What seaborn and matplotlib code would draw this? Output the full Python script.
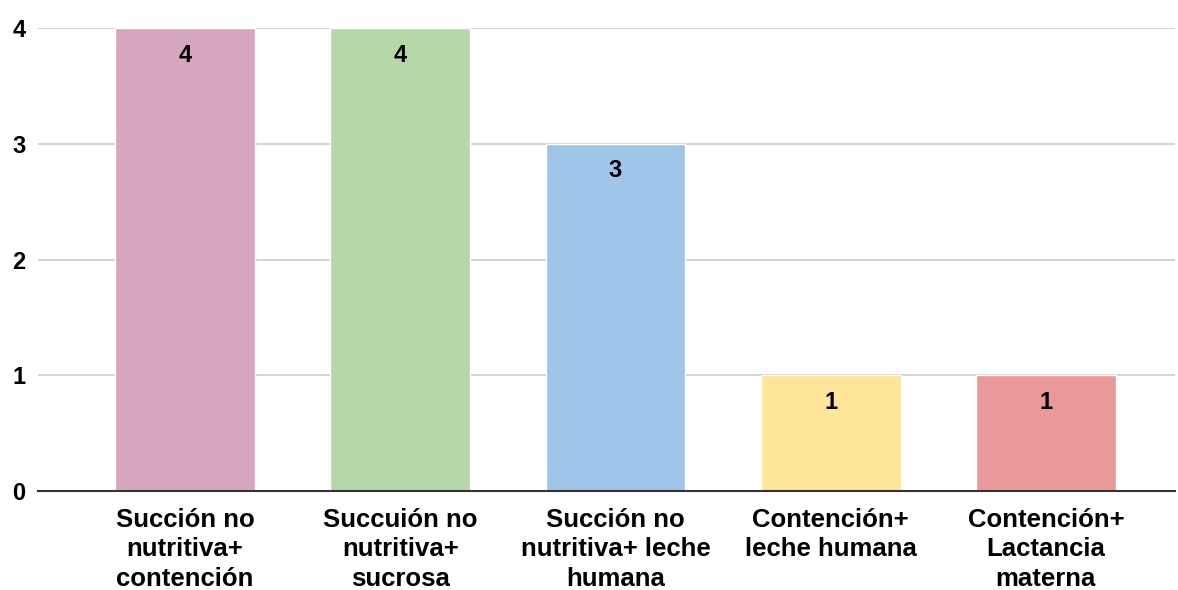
import matplotlib
matplotlib.use("Agg")
import matplotlib.pyplot as plt
import seaborn as sns
import pandas as pd

categories = [
    "Succión no\nnutritiva+\ncontención",
    "Succuión no\nnutritiva+\nsucrosa",
    "Succión no\nnutritiva+ leche\nhumana",
    "Contención+\nleche humana",
    "Contención+\nLactancia\nmaterna",
]
values = [4, 4, 3, 1, 1]
colors = ["#d5a6bd", "#b6d7a8", "#9fc5e8", "#ffe599", "#ea9999"]
y_ticks = [0, 1, 2, 3, 4]

sns.set_theme(style="white")
plt.rcParams["font.family"] = ["Liberation Sans", "DejaVu Sans"]

df = pd.DataFrame({"cat": categories, "val": values})

fig = plt.figure(figsize=(11.78, 5.90), dpi=100)
ax = fig.add_axes([0.0323, 0.1678, 0.9652, 0.7847])

sns.barplot(data=df, x="cat", y="val", hue="cat", palette=colors,
            width=0.65, legend=False, ax=ax, saturation=1)

ax.set_xlim(-0.683, 4.6)
ax.set_ylim(0, 4)
ax.set_yticks(y_ticks)
ax.set_yticklabels([str(t) for t in y_ticks], fontsize=17, fontweight="bold",
                   color="black")
ax.tick_params(axis="y", length=0, pad=9)
ax.tick_params(axis="x", length=0, pad=12)
for lbl in ax.get_xticklabels():
    lbl.set_fontsize(18.5)
    lbl.set_fontweight("bold")
    lbl.set_color("black")
    lbl.set_linespacing(1.3)
    lbl.set_verticalalignment("top")

ax.set_xlabel("")
ax.set_ylabel("")
ax.yaxis.grid(True, color="#cccccc", linewidth=1.2)
ax.set_axisbelow(True)
for s in ["top", "right", "left"]:
    ax.spines[s].set_visible(False)
ax.spines["bottom"].set_color("#333333")
ax.spines["bottom"].set_linewidth(1.5)
ax.spines["bottom"].set_zorder(5)

for container in ax.containers:
    texts = ax.bar_label(container, labels=[f"{v:g}" for v in container.datavalues],
                         padding=-19.5, fontsize=17, fontweight="bold", color="black",
                         label_type="edge")
    for t in texts:
        t.set_verticalalignment("center")

fig.savefig("out.png", dpi=100)
